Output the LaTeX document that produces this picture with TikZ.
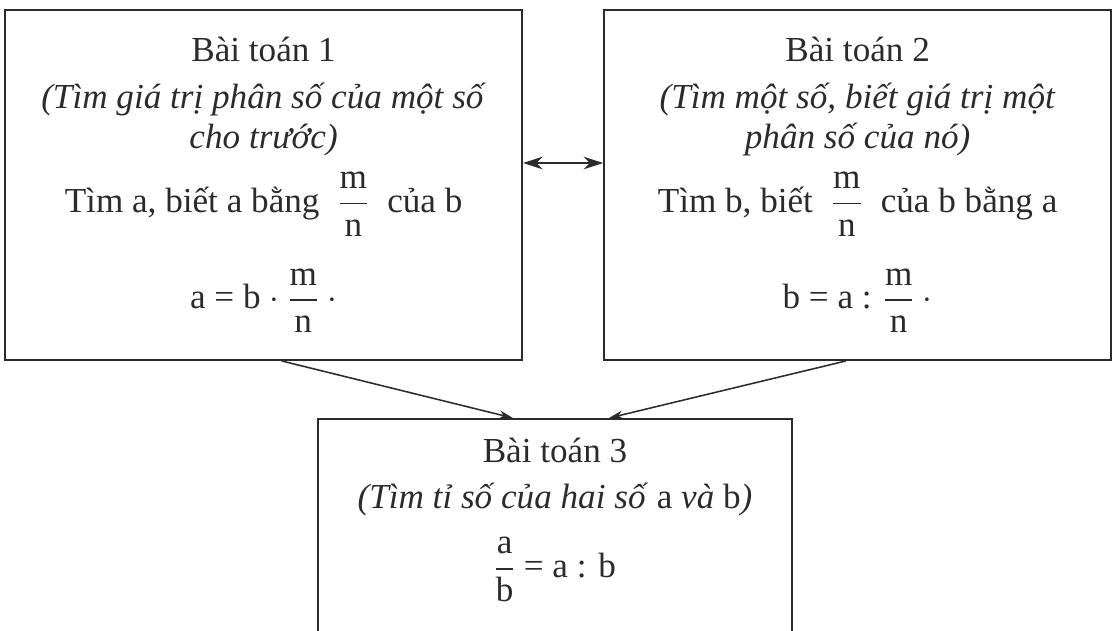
\documentclass[tikz,border=0pt]{standalone}
\usepackage{amsmath}
\usepackage{fontspec}
\setmainfont{Liberation Serif}
\usetikzlibrary{arrows.meta,calc}
\definecolor{ink}{HTML}{2B2B2B}

\begin{document}
\begin{tikzpicture}[>={Stealth[length=10pt,width=6pt]},
    box/.style={draw=ink,line width=1.3pt,align=center,text=ink,
      font=\fontsize{25}{29}\selectfont,inner sep=0pt},
    link/.style={draw=ink,line width=1.1pt},
    bigtip/.style={{Stealth[length=14pt,width=9pt]}-{Stealth[length=14pt,width=9pt]}}]
  \useasboundingbox (0,0) rectangle (27.85,-15.75);
  \clip (0,0) rectangle (27.85,-15.75);
  % the two problems on top
  \node[box,minimum width=12.925cm,minimum height=8.75cm] (bt1) at (6.59,-4.625)
    {Bài toán 1\\[4pt]
     \textit{(Tìm giá trị phân số của một số}\\
     \textit{cho trước)}\\[10pt]
     Tìm a, biết a bằng \;$\dfrac{\text{m}}{\text{n}}$\; của b\\[22pt]
     a = b $\cdot$ $\dfrac{\text{m}}{\text{n}}$ $\cdot$};
  \node[box,minimum width=12.675cm,minimum height=8.75cm] (bt2) at (21.44,-4.625)
    {Bài toán 2\\[4pt]
     \textit{(Tìm một số, biết giá trị một}\\
     \textit{phân số của nó)}\\[10pt]
     Tìm b, biết \;$\dfrac{\text{m}}{\text{n}}$\; của b bằng a\\[22pt]
     b = a : $\dfrac{\text{m}}{\text{n}}$ $\cdot$};
  % the third one, cut by the page
  \node[box,anchor=north,minimum width=11.85cm,minimum height=6.2cm] (bt3) at (13.875,-10.45)
    {Bài toán 3\\[4pt]
     \textit{(Tìm tỉ số của hai số} a \textit{và} b\textit{)}\\[14pt]
     $\dfrac{\text{a}}{\text{b}}$ = a : b\rule[-50pt]{0pt}{0pt}};
  \draw[link,bigtip] ($(bt1.east)+(0,0.55)$) -- ($(bt2.west)+(0,0.55)$);
  \draw[link,->] ($(bt1.south)+(0.45,0)$) -- ($(bt3.north)+(-1.05,0)$);
  \draw[link,->] ($(bt2.south)+(-0.29,0)$) -- ($(bt3.north)+(1.35,0)$);
\end{tikzpicture}
\end{document}
